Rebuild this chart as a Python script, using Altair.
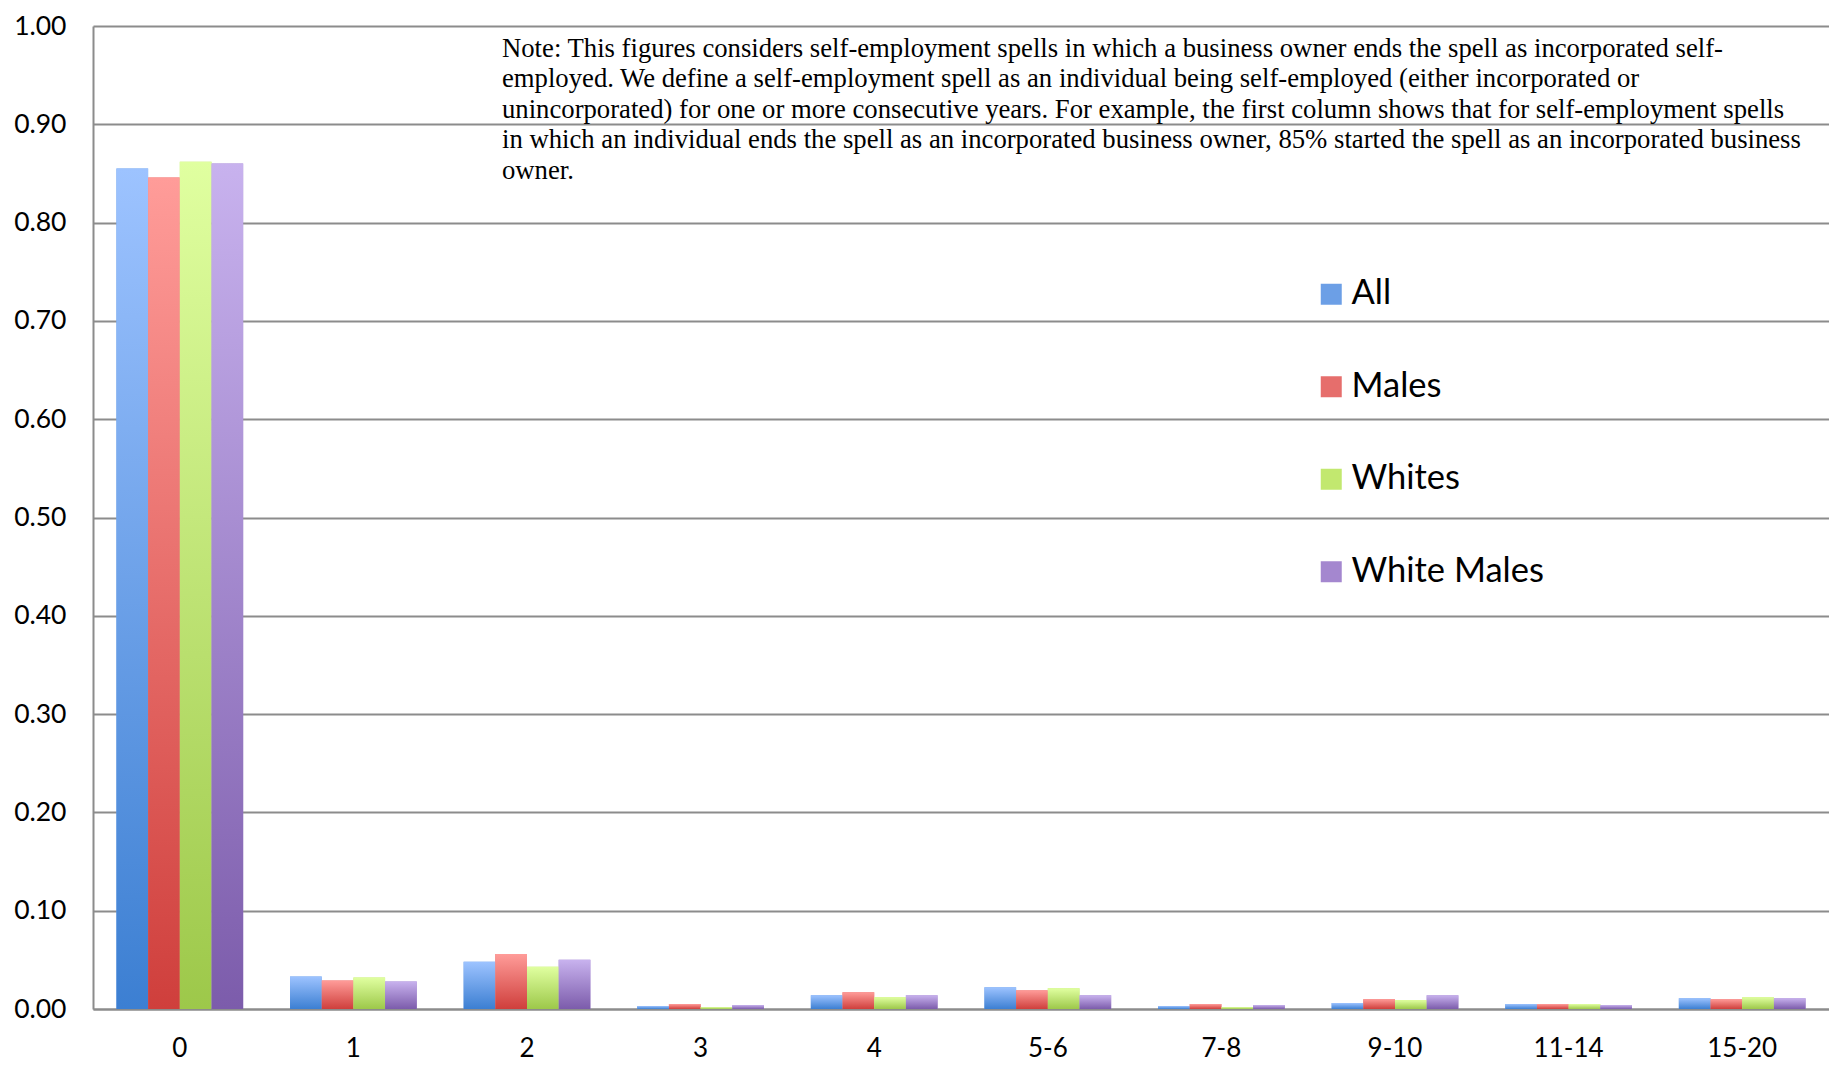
import altair as alt
import pandas as pd

categories = ["0", "1", "2", "3", "4", "5-6", "7-8", "9-10", "11-14", "15-20"]
series_names = ["All", "Males", "Whites", "White Males"]
all_vals = [0.855, 0.033, 0.048, 0.003, 0.014, 0.022, 0.003, 0.006, 0.005, 0.011]
males_vals = [0.846, 0.029, 0.056, 0.005, 0.017, 0.019, 0.005, 0.010, 0.005, 0.010]
whites_vals = [0.862, 0.032, 0.043, 0.002, 0.012, 0.021, 0.002, 0.009, 0.005, 0.012]
wm_vals = [0.860, 0.028, 0.050, 0.004, 0.014, 0.014, 0.004, 0.014, 0.004, 0.011]
y_ticks = [0.0, 0.1, 0.2, 0.3, 0.4, 0.5, 0.6, 0.7, 0.8, 0.9, 1.0]
note_lines = [
    "Note: This figures considers self-employment spells in which a business owner ends the spell as incorporated self-",
    "employed. We define a self-employment spell as an individual being self-employed (either incorporated or",
    "unincorporated) for one or more consecutive years. For example, the first column shows that for self-employment spells",
    "in which an individual ends the spell as an incorporated business owner, 85% started the spell as an incorporated business",
    "owner.",
]

solid_colors = ["#6c9fe6", "#e66e6c", "#c2e86f", "#a487cf"]
grad_stops = {
    "All": ("#9dc3ff", "#3c7fd2"),
    "Males": ("#ff9c99", "#cf3f3c"),
    "Whites": ("#e0ffa0", "#9dc84a"),
    "White Males": ("#c8b2ee", "#7c5cab"),
}

rows = []
for name, vals in zip(series_names, [all_vals, males_vals, whites_vals, wm_vals]):
    for c, v in zip(categories, vals):
        rows.append({"cat": c, "series": name, "value": v})
df = pd.DataFrame(rows)

FONT = "Lato"
GRID = "#8c8c8c"

x_enc = alt.X(
    "cat:N",
    sort=categories,
    scale=alt.Scale(paddingInner=0.27, paddingOuter=0.135),
    axis=alt.Axis(
        title=None, labelAngle=0, ticks=False, domainColor=GRID, domainWidth=2,
        labelFont=FONT, labelFontSize=26, labelColor="black", labelPadding=26, grid=False,
    ),
)
xoff_enc = alt.XOffset("series:N", sort=series_names, scale=alt.Scale(paddingInner=0, paddingOuter=0))
y_enc = alt.Y(
    "value:Q",
    scale=alt.Scale(domain=[0, 1], nice=False),
    axis=alt.Axis(
        title=None, values=y_ticks, format=".2f", ticks=False, grid=True,
        gridColor=GRID, gridWidth=2, domainColor=GRID, domainWidth=2,
        labelFont=FONT, labelFontSize=26.5, labelColor="black", labelPadding=27,
    ),
)

base = alt.Chart(df).encode(x=x_enc, xOffset=xoff_enc, y=y_enc)

legend_bars = base.mark_bar().encode(
    color=alt.Color(
        "series:N",
        sort=series_names,
        scale=alt.Scale(domain=series_names, range=solid_colors),
        legend=alt.Legend(
            title=None, orient="none", legendX=1221, legendY=251, direction="vertical",
            symbolType="square", symbolSize=441, symbolStrokeWidth=0, labelFont=FONT,
            labelFontSize=34.5, labelColor="black", labelOffset=3, rowPadding=57.5, padding=0,
            labelLimit=0,
        ),
    )
)

layers = [legend_bars]
for name in series_names:
    top, bottom = grad_stops[name]
    grad = {
        "gradient": "linear", "x1": 0, "y1": 0, "x2": 0, "y2": 1,
        "stops": [{"offset": 0, "color": top}, {"offset": 1, "color": bottom}],
    }
    layers.append(base.transform_filter(alt.datum.series == name).mark_bar(color=grad))

note = alt.Chart(pd.DataFrame({"k": [0]})).mark_text(
    text=note_lines, align="left", baseline="top", font="Liberation Serif",
    fontSize=26.7, lineHeight=30.5, color="black",
).encode(x=alt.value(409), y=alt.value(9.5))
layers.append(note)

chart = alt.layer(*layers).properties(
    width=1736, height=983,
    padding={"left": 85, "top": 18, "right": 0, "bottom": 60},
    autosize=alt.AutoSizeParams(type="none"),
).configure_view(stroke=None)

chart.save("out.html", embed_options={"renderer": "svg", "actions": False})
